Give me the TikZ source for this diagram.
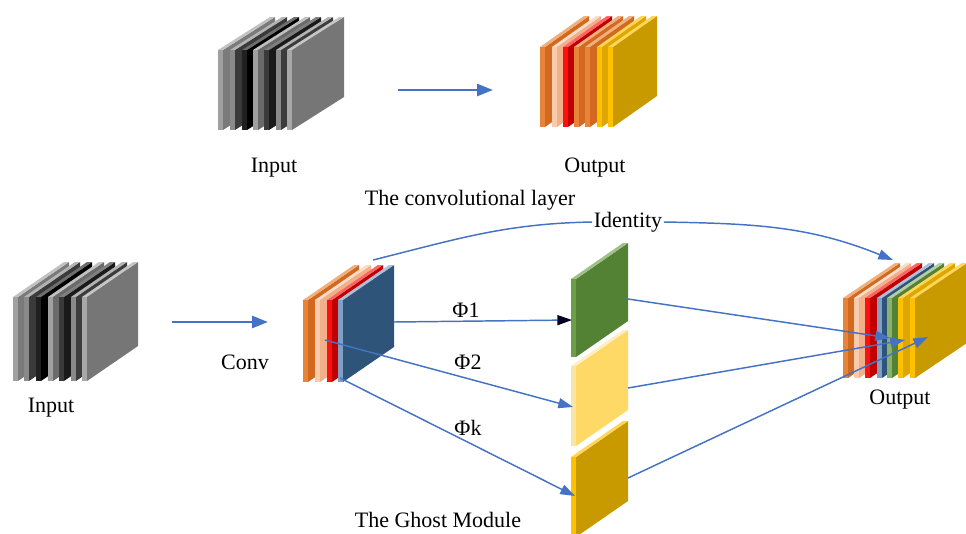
\documentclass[tikz,border=0pt]{standalone}
\usepackage{fontspec}
\setmainfont{Liberation Serif}
\usetikzlibrary{arrows.meta}
\definecolor{arrblue}{HTML}{4472C4}
% gray
\definecolor{gA}{HTML}{A0A0A0}\definecolor{gAf}{HTML}{7A7A7A}
\definecolor{gB}{HTML}{8A8A8A}\definecolor{gBf}{HTML}{3A3A3A}
\definecolor{gC}{HTML}{202020}\definecolor{gCf}{HTML}{000000}
\definecolor{gD}{HTML}{A0A0A0}\definecolor{gDf}{HTML}{6A6A6A}
\definecolor{gE}{HTML}{3A3A3A}\definecolor{gEf}{HTML}{1A1A1A}
\definecolor{gF}{HTML}{8A8A8A}\definecolor{gFf}{HTML}{3C3C3C}
\definecolor{gG}{HTML}{A8A8A8}\definecolor{gGf}{HTML}{767676}
% colours
\definecolor{orE}{HTML}{E8843A}\definecolor{orF}{HTML}{D2691E}
\definecolor{peE}{HTML}{F8CBAD}\definecolor{peF}{HTML}{F0B08A}
\definecolor{reE}{HTML}{FF1010}\definecolor{reF}{HTML}{C00000}
\definecolor{yeE}{HTML}{FFC000}\definecolor{yeF}{HTML}{DDA600}
\definecolor{goF}{HTML}{C99A00}
\definecolor{blE}{HTML}{7F9FC4}\definecolor{blF}{HTML}{2F5479}
\definecolor{grE}{HTML}{6E9E4A}\definecolor{grF}{HTML}{548235}
\definecolor{grT}{HTML}{A9D18E}
\definecolor{lyE}{HTML}{FBE5A6}\definecolor{lyF}{HTML}{FFD966}
\newcommand\plDX{52}\newcommand\plDY{33}\newcommand\plH{80}\newcommand\plT{5}
% #1 x of left edge, #2 y of bottom, #3 edge colour, #4 face colour
\newcommand\plate[4]{%
  \fill[#4] (#1+\plT,#2) -- (#1+\plT,#2-\plH) -- (#1+\plT+\plDX,#2-\plH-\plDY) -- (#1+\plT+\plDX,#2-\plDY) -- cycle;
  \fill[#3!65!white] (#1,#2-\plH) -- (#1+\plT,#2-\plH) -- (#1+\plT+\plDX,#2-\plH-\plDY) -- (#1+\plDX,#2-\plH-\plDY) -- cycle;
  \fill[#3] (#1,#2) rectangle (#1+\plT,#2-\plH);
}
\tikzset{
  arr/.style={draw=arrblue, line width=1.1pt, -{Triangle[length=11pt,width=7.5pt]}},
  bigarr/.style={draw=arrblue, line width=2pt, -{Triangle[length=12pt,width=9pt]}},
  lbl/.style={font=\fontsize{16.5}{19}\selectfont, inner sep=1pt}
}
\begin{document}
\begin{tikzpicture}[x=0.75pt,y=-0.75pt]
\useasboundingbox (0,0) rectangle (966,533);
% ---- top input stack
\renewcommand\plDX{52}\renewcommand\plDY{33}\renewcommand\plH{80}
\plate{218}{130}{gA}{gAf}
\plate{230}{130}{gB}{gBf}
\plate{242}{130}{gC}{gCf}
\plate{253}{130}{gD}{gDf}
\plate{264}{130}{gE}{gEf}
\plate{276}{130}{gF}{gFf}
\plate{287}{130}{gG}{gGf}
% ---- top output stack
\renewcommand\plDX{44}\renewcommand\plDY{31}\renewcommand\plH{80}
\plate{540}{127}{orE}{orF}
\plate{552}{127}{peE}{peF}
\plate{563}{127}{reE}{reF}
\plate{574}{127}{orE}{orF}
\plate{585}{127}{orE}{orF}
\plate{597}{127}{yeE}{yeF}
\plate{608}{127}{yeE}{goF}
% ---- bottom input stack
\renewcommand\plDX{51}\renewcommand\plDY{35}\renewcommand\plH{84}
\plate{13}{381}{gA}{gAf}
\plate{24}{381}{gB}{gBf}
\plate{36}{381}{gC}{gCf}
\plate{48}{381}{gD}{gDf}
\plate{59}{381}{gE}{gEf}
\plate{71}{381}{gF}{gFf}
\plate{82}{381}{gG}{gGf}
% ---- conv stack
\renewcommand\plDX{51}\renewcommand\plDY{35}\renewcommand\plH{82}
\plate{303}{382}{orE}{orF}
\plate{315}{382}{peE}{peF}
\plate{327}{382}{reE}{reF}
\plate{338}{382}{blE}{blF}
% ---- ghost maps
\renewcommand\plDX{52}\renewcommand\plDY{36}\renewcommand\plH{78}
\plate{571}{357}{grE}{grF}
\renewcommand\plH{80}
\plate{571}{446}{lyE}{lyF}
\plate{571}{537}{yeE}{goF}
% ---- bottom output stack
\renewcommand\plDX{52}\renewcommand\plDY{35}\renewcommand\plH{80}
\plate{843}{378}{orE}{orF}
\plate{854}{378}{peE}{peF}
\plate{865}{378}{reE}{reF}
\plate{877}{378}{blE}{blF}
\plate{887}{378}{grE!80!white}{grF}
\plate{898}{378}{yeE}{yeF}
\plate{910}{378}{yeE}{goF}
% ---- labels
\node[lbl] (in1) at (274,168) {Input};
\node[lbl] (out1) at (595,168) {Output};
\node[lbl] (title1) at (470,200) {The convolutional layer};
\node[lbl] (in2) at (51,408) {Input};
\node[lbl] (conv) at (245,362) {Conv};
\node[lbl] (ident) at (628,222) {Identity};
\node[lbl] (phi1) at (466,310) {Φ1};
\node[lbl] (phi2) at (468,362) {Φ2};
\node[lbl] (phik) at (468,428) {Φk};
\node[lbl] (out2) at (900,400) {Output};
\node[lbl] (title2) at (438,520) {The Ghost Module};
% ---- connector end points
\coordinate (tA1) at (398,90); \coordinate (tA2) at (493,90);
\coordinate (bA1) at (172,322); \coordinate (bA2) at (268,322);
\coordinate (idS) at (373,260); \coordinate (idE) at (893,260);
\coordinate (p1s) at (394,322); \coordinate (p1e) at (572,320);
\coordinate (p2s) at (325,340); \coordinate (p2e) at (573,407);
\coordinate (pks) at (340,378); \coordinate (pke) at (575,496);
\coordinate (g1s) at (628,299); \coordinate (o1) at (890,338);
\coordinate (g2s) at (628,388); \coordinate (o2) at (905,340);
\coordinate (g3s) at (628,478); \coordinate (o3) at (928,337);
% ---- arrows
\draw[bigarr] (tA1) -- (tA2);
\draw[bigarr] (bA1) -- (bA2);
\draw[draw=arrblue, line width=1.1pt] (idS) to[out=14,in=181] (ident.west);
\draw[arr] (ident.east) to[out=-1,in=158] (idE);
\draw[draw=arrblue, line width=1.1pt, -{Triangle[length=11pt,width=7.5pt,fill=black!85!blue,color=black!85!blue]}] (p1s) -- (p1e);
\draw[arr] (p2s) -- (p2e);
\draw[arr] (pks) -- (pke);
\draw[arr] (g1s) -- (o1);
\draw[arr] (g2s) -- (o2);
\draw[arr] (g3s) -- (o3);
\end{tikzpicture}
\end{document}
